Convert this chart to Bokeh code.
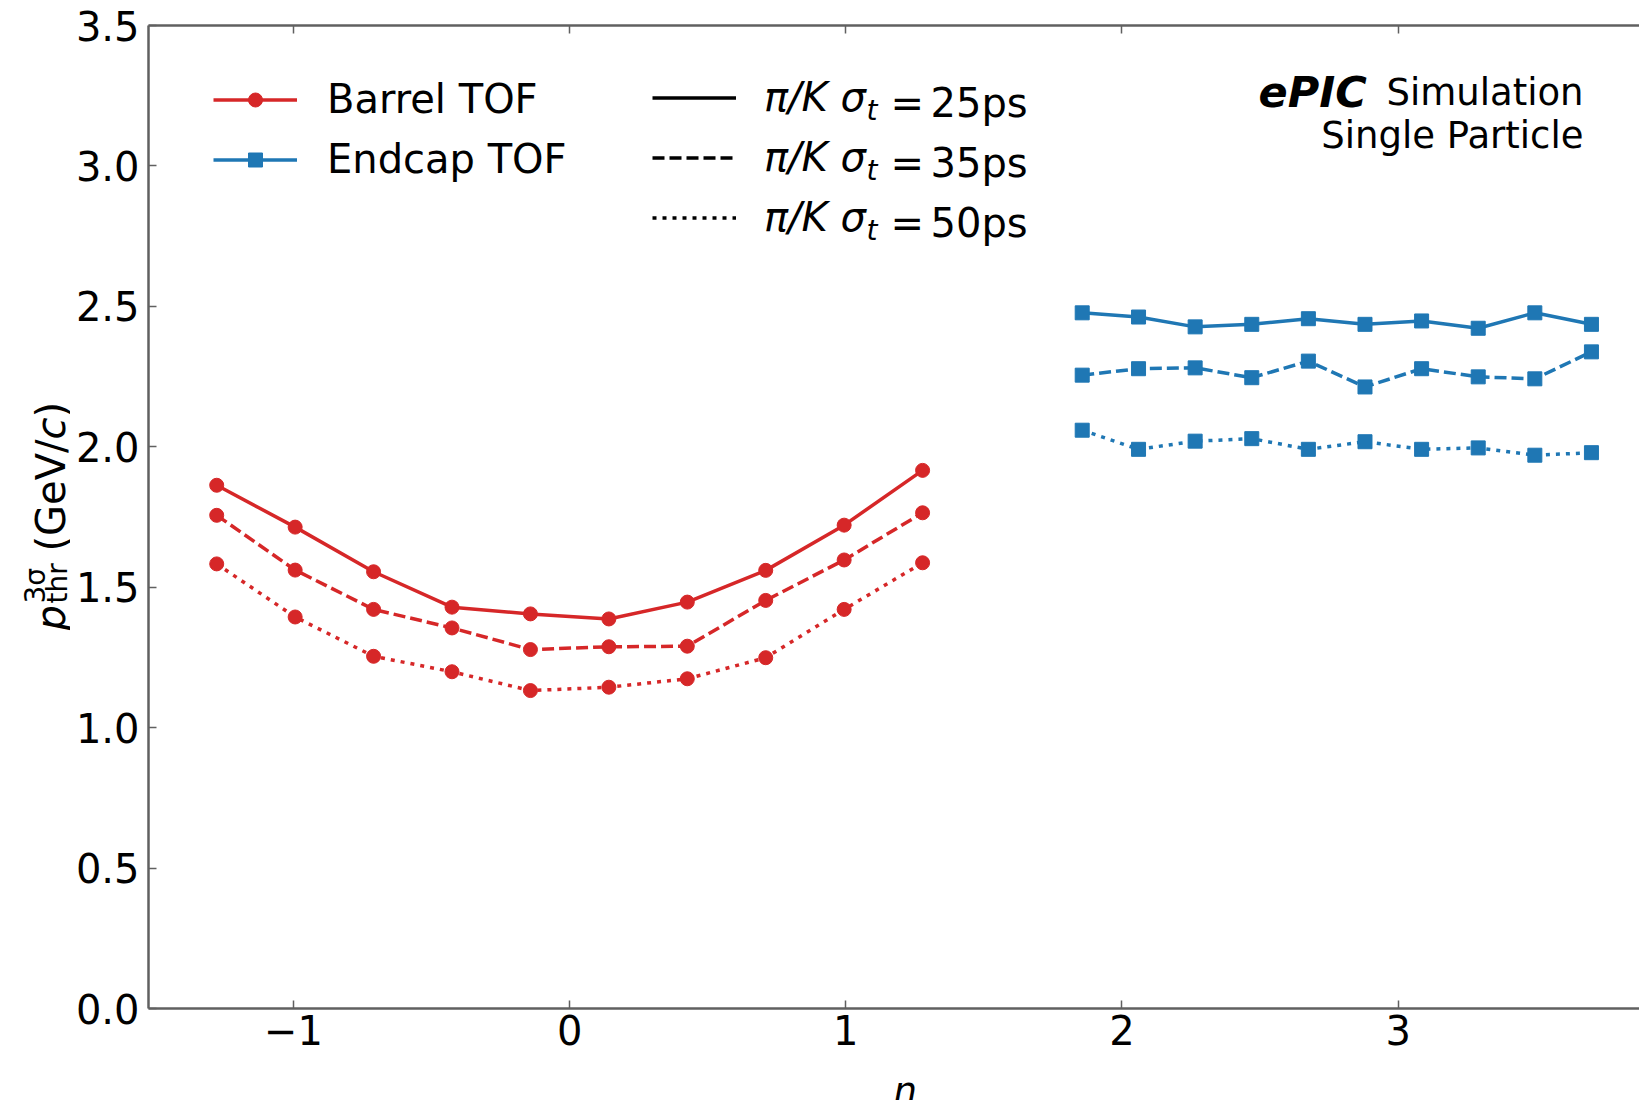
from math import pi
import numpy as np
from bokeh.plotting import figure
from bokeh.layouts import row, column
from bokeh.models import (ColumnDataSource, Range1d, LinearAxis, FixedTicker,
                          PrintfTickFormatter, Legend, LegendItem, Label)
from bokeh.core.properties import value
from bokeh.embed import file_html
from bokeh.resources import INLINE

# ---------------- data ----------------
eta_barrel = [-1.278, -0.994, -0.710, -0.426, -0.142, 0.142, 0.426, 0.710, 0.994, 1.278]
eta_endcap = [1.856, 2.060, 2.265, 2.470, 2.675, 2.880, 3.085, 3.290, 3.495, 3.700]

barrel_25ps = [1.863, 1.714, 1.555, 1.429, 1.405, 1.387, 1.447, 1.560, 1.721, 1.916]
barrel_35ps = [1.756, 1.561, 1.421, 1.355, 1.278, 1.288, 1.290, 1.453, 1.597, 1.765]
barrel_50ps = [1.583, 1.394, 1.254, 1.199, 1.132, 1.144, 1.174, 1.249, 1.421, 1.587]

endcap_25ps = [2.477, 2.462, 2.427, 2.436, 2.456, 2.436, 2.448, 2.422, 2.477, 2.436]
endcap_35ps = [2.255, 2.278, 2.281, 2.246, 2.305, 2.213, 2.278, 2.249, 2.242, 2.338]
endcap_50ps = [2.059, 1.991, 2.020, 2.029, 1.991, 2.018, 1.991, 1.996, 1.970, 1.979]

resolutions = ["25ps", "35ps", "50ps"]
detectors = ["Barrel TOF", "Endcap TOF"]

x_ticks = [-1, 0, 1, 2, 3]
x_tick_labels = ["\u22121", "0", "1", "2", "3"]
y_ticks = [0.0, 0.5, 1.0, 1.5, 2.0, 2.5, 3.0, 3.5]

# ---------------- style ----------------
RED = "#d62728"
BLUE = "#1f77b4"
FONT = "DejaVu Sans"
SPINE = "#606060"
dashes = ["solid", "12 5", "4 6"]
LW = 3.5

YL_W = 70          # width of the strip holding the y-axis title
MAIN_H = 1062      # height of the main figure
TOTAL_W = 1639
TOTAL_H = 1100
FRAME_TOP = 25
FRAME_BOTTOM = 1008

p = figure(width=TOTAL_W - YL_W, height=MAIN_H, output_backend="svg",
           toolbar_location=None,
           x_range=Range1d(-1.525, 3.874), y_range=Range1d(0, 3.5),
           x_axis_location=None, y_axis_location=None,
           min_border_left=148 - YL_W, min_border_right=0, min_border_top=FRAME_TOP,
           min_border_bottom=MAIN_H - FRAME_BOTTOM)
p.outline_line_color = None
for g in p.grid:
    g.visible = False
p.background_fill_color = "white"
p.border_fill_color = "white"


def style_axis(ax, show_labels=True, standoff=5):
    ax.axis_line_color = SPINE
    ax.axis_line_width = 2.5
    ax.major_tick_in = 8
    ax.major_tick_out = 0
    ax.major_tick_line_color = SPINE
    ax.major_tick_line_width = 1.5
    ax.minor_tick_line_color = None
    ax.major_label_text_font = FONT
    ax.major_label_text_color = "black"
    ax.major_label_standoff = standoff
    if show_labels:
        ax.major_label_text_font_size = "40px"
    else:
        ax.major_label_text_font_size = "0px"
        ax.major_label_text_alpha = 0


xaxis = LinearAxis(ticker=FixedTicker(ticks=x_ticks),
                   major_label_overrides=dict(zip(x_ticks, x_tick_labels)))
style_axis(xaxis, True, 6)
p.add_layout(xaxis, "below")

xtop = LinearAxis(ticker=FixedTicker(ticks=x_ticks))
style_axis(xtop, False, 0)
p.add_layout(xtop, "above")

yaxis = LinearAxis(ticker=FixedTicker(ticks=y_ticks),
                   formatter=PrintfTickFormatter(format="%.1f"))
style_axis(yaxis, True, 9)
p.add_layout(yaxis, "left")

# ---------------- data renderers ----------------
barrel_sets = [barrel_25ps, barrel_35ps, barrel_50ps]
endcap_sets = [endcap_25ps, endcap_35ps, endcap_50ps]
barrel_r = []
endcap_r = []
for ys, dash in zip(barrel_sets, dashes):
    src = ColumnDataSource(dict(x=eta_barrel, y=ys))
    ln = p.line("x", "y", source=src, line_color=RED, line_width=LW, line_dash=dash)
    sc = p.scatter("x", "y", source=src, marker="circle", size=14,
                   fill_color=RED, line_color=RED)
    barrel_r.append((ln, sc))
for ys, dash in zip(endcap_sets, dashes):
    src = ColumnDataSource(dict(x=eta_endcap, y=ys))
    ln = p.line("x", "y", source=src, line_color=BLUE, line_width=LW, line_dash=dash)
    sc = p.scatter("x", "y", source=src, marker="square", size=14,
                   fill_color=BLUE, line_color=BLUE)
    endcap_r.append((ln, sc))

# ---------------- legends ----------------
leg_common = dict(orientation="vertical", padding=0, margin=0, spacing=12,
                  glyph_width=84, glyph_height=35, label_height=48,
                  label_text_font=FONT,
                  label_text_font_size="40px", label_text_color="black",
                  border_line_color=None, background_fill_alpha=0)

leg1 = Legend(items=[LegendItem(label=detectors[0], renderers=list(barrel_r[0])),
                     LegendItem(label=detectors[1], renderers=list(endcap_r[0]))],
              location=(65, 825), label_standoff=30, **leg_common)
p.add_layout(leg1)

# legend-only line styles (placeholder renderers that draw nothing in the plot)
dummy = []
for dash in dashes:
    nan_src = ColumnDataSource(dict(x=np.array([np.nan]), y=np.array([np.nan])))
    dummy.append(p.line("x", "y", source=nan_src, line_color="black",
                        line_width=LW, line_dash=dash))
leg2 = Legend(items=[LegendItem(label="\u03c0/K \u03c3", renderers=[r]) for r in dummy],
              location=(504, 767), label_standoff=28,
              label_text_font_style="italic", **leg_common)
p.add_layout(leg2)

LABEL_DY = 10.5  # Label's alphabetic-baseline offset correction


def lab(text, x, y, size="40px", style="normal", align="left"):
    p.add_layout(Label(x=x, y=y + LABEL_DY, x_units="screen", y_units="screen",
                       text=text, text_font=FONT, text_font_size=size,
                       text_font_style=style, text_align=align,
                       text_baseline="alphabetic", text_color="black"))


# rest of legend-2 texts: subscript t, "=", resolution
for i, res in enumerate(resolutions):
    y0 = 895 - 60 * i
    lab("t", 718, y0 - 7, size="28px", style="italic")
    lab("=", 742, y0)
    lab(res, 782, y0)

# annotation
lab("ePIC", 1110, 906, size="43px", style="bold italic")
lab("Simulation", 1435, 906, size="37px", align="right")
lab("Single Particle", 1435, 863, size="37px", align="right")

# ---------------- y-axis title strip ----------------
# its frame is aligned with the main frame, so window y == data y here
yl = figure(width=YL_W, height=MAIN_H, output_backend="svg", toolbar_location=None,
            x_range=Range1d(0, YL_W), y_range=Range1d(FRAME_BOTTOM, FRAME_TOP),
            x_axis_location=None, y_axis_location=None, min_border=0)
yl.outline_line_color = None
for g in yl.grid:
    g.visible = False


def ytxt(text, x, y, size="40px", style="normal"):
    yl.text(x=[x], y=[y], text=[text], angle=pi / 2, text_font=value(FONT),
            text_font_size=size, text_font_style=style, text_align="left",
            text_baseline="alphabetic", text_color="black")


ytxt("p", 50, 630, style="italic")
ytxt("3\u03c3", 35, 603, size="28px")
ytxt("thr", 57, 603, size="28px")
ytxt("(GeV/", 50, 551)
ytxt("c", 50, 439, style="italic")
ytxt(")", 50, 417)

# ---------------- x-axis title strip ----------------
XL_H = TOTAL_H - MAIN_H
xl = figure(width=TOTAL_W, height=XL_H, output_backend="svg", toolbar_location=None,
            x_range=Range1d(0, TOTAL_W), y_range=Range1d(TOTAL_H, MAIN_H),
            x_axis_location=None, y_axis_location=None, min_border=0)
xl.outline_line_color = None
for g in xl.grid:
    g.visible = False
xl.text(x=[904], y=[1091], text=["\u03b7"], text_font=value(FONT),
        text_font_size="37px", text_font_style="italic", text_align="center",
        text_baseline="alphabetic", text_color="black")

layout = column(row(yl, p, spacing=0), xl, spacing=0)
open("out.html", "w").write(file_html(layout, INLINE))
